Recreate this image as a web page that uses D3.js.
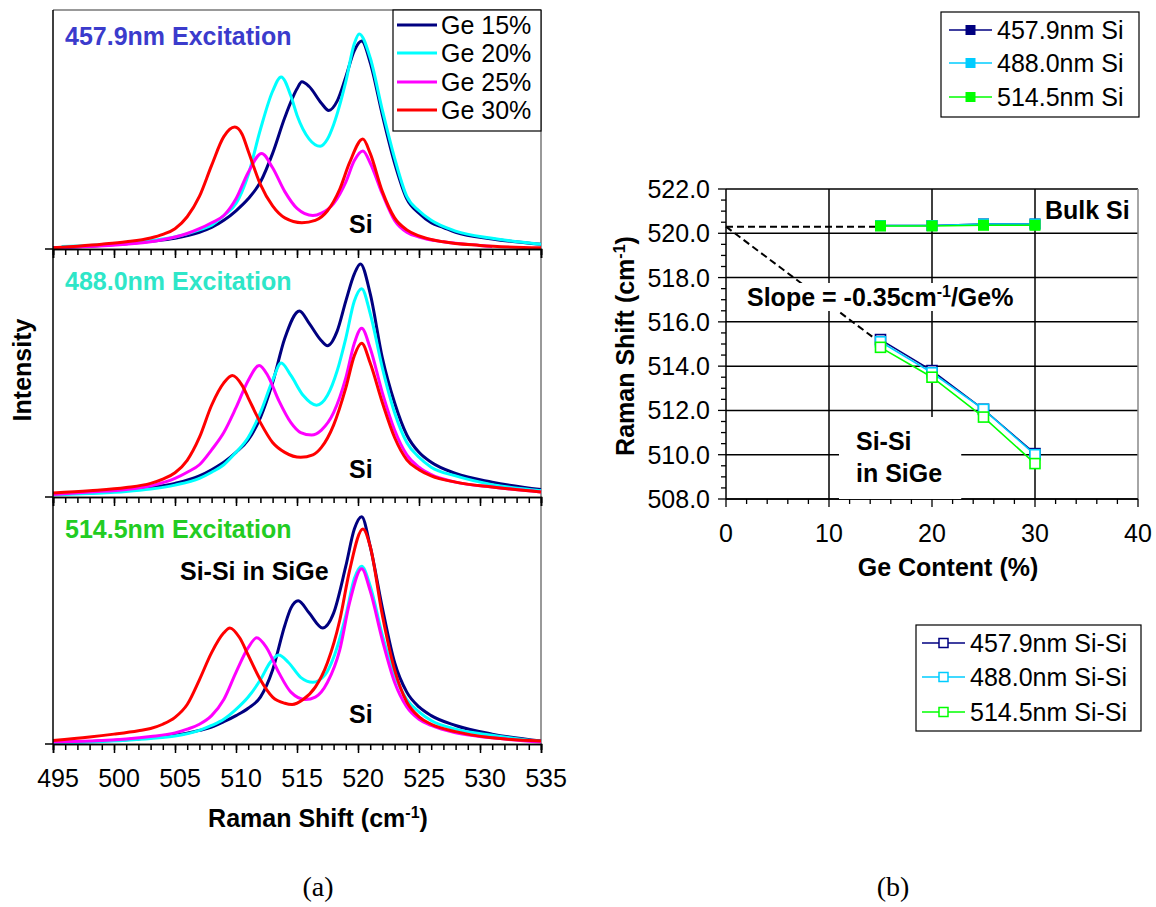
<!DOCTYPE html>
<html><head><meta charset="utf-8">
<script src="https://cdn.jsdelivr.net/npm/d3@7"></script>
<style>
body{margin:0;background:#fff;}
svg{display:block;}
text{font-family:"Liberation Sans",Arial,Helvetica,sans-serif;}
</style></head><body>
<svg id="c" width="1156" height="907"></svg>
<script>
// ---------- DATA: panel (a) Raman spectra [shift cm-1, relative intensity] ----------
const geLabels = ["Ge 15%", "Ge 20%", "Ge 25%", "Ge 30%"];
const excitations = ["457.9nm Excitation", "488.0nm Excitation", "514.5nm Excitation"];
const shiftTicks = [495, 500, 505, 510, 515, 520, 525, 530, 535];

const ex457_ge15 = [[495,0.005],[498,0.012],[501,0.022],[503,0.032],[505,0.045],[507,0.07],[508,0.09],[509,0.12],[510,0.16],[511,0.21],[512,0.28],[513,0.40],[514,0.55],[515,0.67],[515.4,0.70],[516,0.68],[517,0.61],[517.6,0.58],[518.3,0.62],[519,0.72],[519.7,0.83],[520.3,0.87],[521,0.78],[522,0.56],[523,0.36],[524,0.21],[525,0.15],[526,0.11],[527,0.09],[528,0.07],[531,0.042],[535,0.02]];
const ex457_ge20 = [[495.7,0.01],[498,0.015],[501,0.025],[503,0.035],[505,0.05],[507,0.08],[508,0.10],[509,0.14],[510,0.19],[511,0.31],[512,0.50],[513,0.66],[513.7,0.72],[514.5,0.64],[515,0.56],[516,0.46],[516.9,0.43],[517.5,0.46],[518,0.52],[519,0.70],[519.7,0.86],[520.1,0.90],[521,0.80],[522,0.58],[523,0.38],[524,0.22],[525,0.16],[526,0.12],[528,0.075],[531,0.045],[535,0.02]];
const ex457_ge25 = [[495,0.005],[498,0.01],[501,0.02],[503,0.03],[505,0.05],[506,0.065],[507,0.085],[508,0.11],[509,0.14],[510,0.21],[511,0.32],[512.1,0.40],[513,0.34],[514,0.24],[515,0.17],[516.3,0.14],[517,0.15],[518,0.19],[519,0.28],[519.7,0.37],[520.4,0.41],[521,0.36],[522,0.23],[523,0.12],[524,0.07],[525,0.05],[527,0.03],[530,0.015],[531,0.01]];
const ex457_ge30 = [[495,0.005],[497,0.012],[499,0.02],[501,0.03],[503,0.046],[504,0.061],[505,0.085],[506,0.135],[507,0.22],[508,0.35],[509,0.47],[509.9,0.51],[510.5,0.48],[511,0.41],[512,0.27],[513,0.18],[514,0.13],[515.4,0.11],[516.5,0.12],[517.5,0.16],[518.5,0.25],[519.3,0.36],[520.4,0.46],[521,0.40],[522,0.24],[523,0.13],[524,0.08],[525,0.055],[527,0.03],[530,0.015],[535,0.005]];

const ex488_ge15 = [[495,0.01],[498,0.018],[501,0.028],[503,0.038],[505,0.055],[507,0.085],[508,0.11],[509,0.14],[510,0.18],[511,0.23],[512,0.32],[513,0.46],[514,0.64],[515.2,0.75],[516,0.70],[517,0.63],[517.5,0.61],[518.3,0.67],[519,0.79],[519.7,0.90],[520.2,0.94],[521,0.82],[522,0.56],[523,0.38],[524,0.25],[525,0.18],[526,0.14],[528,0.095],[531,0.06],[535,0.03]];
const ex488_ge20 = [[495,0.008],[498,0.014],[501,0.022],[503,0.032],[505,0.048],[507,0.075],[508,0.10],[509,0.13],[510,0.18],[511,0.24],[512,0.34],[513,0.47],[513.7,0.54],[514.5,0.49],[515.5,0.41],[516.6,0.37],[517.5,0.41],[518.3,0.51],[519,0.64],[519.7,0.79],[520.3,0.84],[521,0.74],[522,0.52],[523,0.34],[524,0.22],[525,0.16],[526,0.12],[528,0.085],[531,0.05],[535,0.025]];
const ex488_ge25 = [[495,0.01],[498,0.02],[501,0.03],[503,0.045],[505,0.075],[506,0.10],[507,0.13],[508,0.19],[509,0.26],[510,0.36],[511,0.47],[511.9,0.53],[512.6,0.49],[513.5,0.39],[514.5,0.30],[515.3,0.26],[516.2,0.25],[517,0.27],[518,0.34],[519,0.48],[519.7,0.62],[520.3,0.68],[521,0.60],[522,0.42],[523,0.27],[524,0.17],[525,0.12],[526,0.09],[528,0.06],[531,0.04],[535,0.02]];
const ex488_ge30 = [[495,0.016],[498,0.025],[501,0.038],[503,0.055],[504,0.072],[505,0.098],[506,0.148],[507,0.24],[508,0.37],[509,0.46],[509.7,0.49],[510.5,0.45],[511,0.40],[512,0.30],[513,0.22],[514,0.18],[515.3,0.16],[516.3,0.17],[517,0.20],[518,0.29],[519,0.44],[519.7,0.57],[520.3,0.62],[521,0.54],[522,0.38],[523,0.24],[524,0.15],[525,0.11],[526,0.085],[528,0.06],[531,0.04],[535,0.02]];

const ex514_ge15 = [[495,0.005],[498,0.01],[501,0.017],[503,0.025],[505,0.035],[507,0.055],[508,0.068],[509,0.09],[510,0.115],[511,0.145],[512,0.19],[513,0.30],[514,0.48],[514.5,0.55],[515.1,0.58],[516,0.53],[517.1,0.47],[518,0.53],[519,0.72],[519.7,0.87],[520.3,0.92],[521,0.80],[522,0.55],[523,0.33],[524,0.21],[525,0.15],[526,0.115],[528,0.075],[531,0.04],[535,0.012]];
const ex514_ge20 = [[495,0.003],[498,0.008],[501,0.015],[503,0.022],[505,0.032],[507,0.055],[508,0.075],[509,0.10],[510,0.14],[511,0.19],[512,0.26],[512.8,0.33],[513.5,0.36],[514.3,0.33],[515.3,0.27],[516.3,0.25],[517.3,0.28],[518,0.35],[519,0.52],[519.7,0.67],[520.3,0.72],[521,0.64],[522,0.44],[523,0.28],[524,0.18],[525,0.13],[526,0.095],[528,0.06],[531,0.035],[535,0.01]];
const ex514_ge25 = [[495,0.008],[498,0.012],[501,0.02],[503,0.03],[505,0.045],[506,0.06],[507,0.08],[508,0.115],[509,0.18],[510,0.29],[511,0.39],[511.7,0.43],[512.5,0.39],[513.5,0.29],[514.5,0.21],[515.7,0.18],[516.5,0.19],[517.5,0.25],[518.5,0.38],[519.3,0.57],[520.3,0.71],[521,0.62],[522,0.42],[523,0.25],[524,0.15],[525,0.10],[526,0.075],[528,0.045],[531,0.025],[535,0.008]];
const ex514_ge30 = [[495,0.014],[498,0.028],[500,0.04],[502,0.054],[503,0.063],[504,0.08],[505,0.108],[506,0.16],[507,0.26],[508,0.37],[509,0.45],[509.5,0.47],[510.3,0.43],[511,0.36],[512,0.26],[513,0.19],[514,0.165],[514.6,0.16],[515.5,0.18],[516.5,0.23],[517.5,0.33],[518.5,0.50],[519.3,0.70],[520.4,0.87],[521,0.80],[522,0.52],[523,0.30],[524,0.17],[525,0.11],[526,0.08],[528,0.05],[531,0.025],[535,0.012]];

// ---------- DATA: panel (b) peak positions ----------
const geContent = [15, 20, 25, 30];
const si457 = [520.35, 520.35, 520.42, 520.42];
const si488 = [520.35, 520.35, 520.42, 520.42];
const si514 = [520.33, 520.33, 520.36, 520.36];
const sisi457 = [515.2, 513.8, 512.05, 510.05];
const sisi488 = [515.1, 513.7, 512.05, 510.0];
const sisi514 = [514.85, 513.5, 511.7, 509.6];
const siLegend = ["457.9nm Si", "488.0nm Si", "514.5nm Si"];
const sisiLegend = ["457.9nm Si-Si", "488.0nm Si-Si", "514.5nm Si-Si"];
const geTicks = [0, 10, 20, 30, 40];
const shiftTicksB = [508, 510, 512, 514, 516, 518, 520, 522];
const bulkSi = 520.3, slope = -0.35;

// ---------- STYLE ----------
const curveColors = ["#000080", "#00ffff", "#ff00ff", "#ff0000"];
const titleColors = ["#3b3bcc", "#2ee6c8", "#22cc22"];
const laserColors = ["#000080", "#00ccff", "#00ff00"];
const svg = d3.select("#c");
const F = 25;

// ================= PANEL (a) =================
const xL = d3.scaleLinear().domain([495, 535]).range([53, 541]);
const geom = [{top: 10, bottom: 249}, {top: 249, bottom: 497}, {top: 497, bottom: 744}];
const spectra = [
  [ex457_ge15, ex457_ge20, ex457_ge25, ex457_ge30],
  [ex488_ge15, ex488_ge20, ex488_ge25, ex488_ge30],
  [ex514_ge15, ex514_ge20, ex514_ge25, ex514_ge30]
];
const titleBase = [45, 290, 538];
const siBase = [233, 478, 723];

svg.append("line").attr("x1", 53).attr("x2", 541).attr("y1", 10).attr("y2", 10).attr("stroke", "#777").attr("stroke-width", 1.5);
svg.append("line").attr("x1", 541).attr("x2", 541).attr("y1", 10).attr("y2", 744).attr("stroke", "#777").attr("stroke-width", 1.5);

geom.forEach((g, pi) => {
  const y = d3.scaleLinear().domain([0, 1]).range([g.bottom, g.top]);
  const line = d3.line().x(d => xL(d[0])).y(d => y(d[1])).curve(d3.curveMonotoneX);
  const gp = svg.append("g");
  spectra[pi].forEach((s, ci) => {
    gp.append("path").datum(s).attr("d", line).attr("fill", "none")
      .attr("stroke", curveColors[ci]).attr("stroke-width", 3).attr("stroke-linejoin", "round");
  });
  const minor = svg.append("g").attr("transform", `translate(0,${g.bottom})`)
    .call(d3.axisBottom(xL).tickValues(d3.range(495, 536, 1)).tickSize(6).tickFormat(""));
  const major = svg.append("g").attr("transform", `translate(0,${g.bottom})`)
    .call(d3.axisBottom(xL).tickValues(shiftTicks).tickSize(9).tickFormat(""));
  [minor, major].forEach(a => { a.select(".domain").attr("stroke", "#000").attr("stroke-width", 1.5); a.selectAll(".tick line").attr("stroke", "#000").attr("stroke-width", 1.5); });
  svg.append("line").attr("x1", 45).attr("x2", 53).attr("y1", g.bottom).attr("y2", g.bottom).attr("stroke", "#000").attr("stroke-width", 1.5);
  svg.append("text").attr("x", 65).attr("y", titleBase[pi]).attr("font-size", F).attr("font-weight", "bold")
    .attr("fill", titleColors[pi]).text(excitations[pi]);
  svg.append("text").attr("x", 349).attr("y", siBase[pi]).attr("font-size", F).attr("font-weight", "bold").text("Si");
});
svg.append("line").attr("x1", 53).attr("x2", 53).attr("y1", 10).attr("y2", 744).attr("stroke", "#000").attr("stroke-width", 1.5);

svg.append("text").attr("x", 180).attr("y", 580).attr("font-size", F).attr("font-weight", "bold").text("Si-Si in SiGe");

svg.append("g").selectAll("text").data(shiftTicks).join("text")
  .attr("x", d => xL(d) + 5).attr("y", 787).attr("text-anchor", "middle").attr("font-size", F).text(d => d);

const xt = svg.append("text").attr("x", 318).attr("y", 827).attr("text-anchor", "middle").attr("font-size", F).attr("font-weight", "bold");
xt.append("tspan").text("Raman Shift (cm");
xt.append("tspan").attr("dy", -9).attr("font-size", 16).text("-1");
xt.append("tspan").attr("dy", 9).text(")");
svg.append("text").attr("transform", "translate(31,370) rotate(-90)").attr("text-anchor", "middle")
  .attr("font-size", F).attr("font-weight", "bold").text("Intensity");

const lg = svg.append("g");
lg.append("rect").attr("x", 393).attr("y", 10).attr("width", 148).attr("height", 121).attr("fill", "#fff").attr("stroke", "#000").attr("stroke-width", 1.2);
const rowsA = [25, 53, 82, 110];
geLabels.forEach((t, i) => {
  lg.append("line").attr("x1", 397).attr("x2", 437).attr("y1", rowsA[i]).attr("y2", rowsA[i]).attr("stroke", curveColors[i]).attr("stroke-width", 3);
  lg.append("text").attr("x", 441).attr("y", rowsA[i] + 9).attr("font-size", F).text(t);
});

// ================= PANEL (b) =================
const xR = d3.scaleLinear().domain([0, 40]).range([726, 1138]);
const yR = d3.scaleLinear().domain([508, 522]).range([499, 189]);
const gb = svg.append("g");
gb.selectAll(".hg").data(shiftTicksB).join("line").attr("class", "hg")
  .attr("x1", xR(0)).attr("x2", xR(40)).attr("y1", d => yR(d)).attr("y2", d => yR(d))
  .attr("stroke", "#000").attr("stroke-width", 1.5);
gb.selectAll(".vg").data([10, 20, 30]).join("line").attr("class", "vg")
  .attr("x1", d => xR(d)).attr("x2", d => xR(d)).attr("y1", yR(522)).attr("y2", yR(508))
  .attr("stroke", "#000").attr("stroke-width", 1.5);
gb.append("line").attr("x1", xR(40)).attr("x2", xR(40)).attr("y1", yR(522)).attr("y2", yR(508)).attr("stroke", "#888").attr("stroke-width", 1.5);
const yMinor = d3.range(508, 522.01, 0.5);
gb.selectAll(".ym").data(yMinor).join("line").attr("class", "ym")
  .attr("x1", d => (d % 2 === 0 ? xR(0) - 8 : xR(0) - 5)).attr("x2", xR(0)).attr("y1", d => yR(d)).attr("y2", d => yR(d))
  .attr("stroke", "#000").attr("stroke-width", 1.3);
const xMinor = d3.range(0, 40.01, 2);
gb.selectAll(".xm").data(xMinor).join("line").attr("class", "xm")
  .attr("x1", d => xR(d)).attr("x2", d => xR(d)).attr("y1", yR(508)).attr("y2", d => yR(508) + (d % 10 === 0 ? 8 : 5))
  .attr("stroke", "#000").attr("stroke-width", 1.3);
gb.append("line").attr("x1", xR(0)).attr("x2", xR(0)).attr("y1", yR(522)).attr("y2", yR(508)).attr("stroke", "#000").attr("stroke-width", 1.5);
gb.append("line").attr("x1", xR(0)).attr("x2", xR(40)).attr("y1", yR(508)).attr("y2", yR(508)).attr("stroke", "#000").attr("stroke-width", 1.5);

gb.append("line").attr("x1", xR(0)).attr("x2", xR(15)).attr("y1", yR(bulkSi)).attr("y2", yR(bulkSi))
  .attr("stroke", "#000").attr("stroke-width", 2).attr("stroke-dasharray", "7,4");
gb.append("line").attr("x1", xR(0)).attr("x2", xR(15)).attr("y1", yR(bulkSi)).attr("y2", yR(bulkSi + slope * 15))
  .attr("stroke", "#000").attr("stroke-width", 2).attr("stroke-dasharray", "7,4");

function boxedText(x, y, build, pad) {
  const g = gb.append("g");
  const r = g.append("rect").attr("fill", "#fff");
  const t = g.append("text").attr("x", x).attr("y", y).attr("font-size", F).attr("font-weight", "bold");
  build(t);
  const b = t.node().getBBox();
  r.attr("x", b.x - pad[0]).attr("y", b.y - pad[1]).attr("width", b.width + pad[0] + pad[2]).attr("height", b.height + pad[1] + pad[3]);
  return g;
}
boxedText(747, 306, t => {
  t.append("tspan").text("Slope = -0.35cm");
  t.append("tspan").attr("dy", -9).attr("font-size", 16).text("-1");
  t.append("tspan").attr("dy", 9).text("/Ge%");
}, [6, 0, 6, 0]);
boxedText(856, 450, t => {
  t.append("tspan").attr("x", 856).text("Si-Si");
  t.append("tspan").attr("x", 856).attr("dy", 32).text("in SiGe");
}, [17, 10, 19, 12]);
gb.append("text").attr("x", 1045).attr("y", 219).attr("font-size", F).attr("font-weight", "bold").text("Bulk Si");

const lineB = d3.line().x(d => xR(d[0])).y(d => yR(d[1]));
const siSeries = [si457, si488, si514];
const sisiSeries = [sisi457, sisi488, sisi514];
sisiSeries.forEach((s, i) => {
  const pts = geContent.map((g, j) => [g, s[j]]);
  gb.append("path").datum(pts).attr("d", lineB).attr("fill", "none").attr("stroke", laserColors[i]).attr("stroke-width", 1.6);
  gb.selectAll(null).data(pts).join("rect").attr("x", d => xR(d[0]) - 5).attr("y", d => yR(d[1]) - 5)
    .attr("width", 10).attr("height", 10).attr("fill", "#fff").attr("stroke", laserColors[i]).attr("stroke-width", 1.6);
});
siSeries.forEach((s, i) => {
  const pts = geContent.map((g, j) => [g, s[j]]);
  gb.append("path").datum(pts).attr("d", lineB).attr("fill", "none").attr("stroke", laserColors[i]).attr("stroke-width", 1.6);
  gb.selectAll(null).data(pts).join("rect").attr("x", d => xR(d[0]) - 5.5).attr("y", d => yR(d[1]) - 5.5)
    .attr("width", 11).attr("height", 11).attr("fill", laserColors[i]);
});

gb.selectAll(".yl").data(shiftTicksB).join("text").attr("class", "yl")
  .attr("x", 710).attr("y", d => yR(d) + 9).attr("text-anchor", "end").attr("font-size", F).text(d => d.toFixed(1));
gb.selectAll(".xl").data(geTicks).join("text").attr("class", "xl")
  .attr("x", d => xR(d)).attr("y", 542).attr("text-anchor", "middle").attr("font-size", F).text(d => d);
gb.append("text").attr("x", 948).attr("y", 576).attr("text-anchor", "middle").attr("font-size", F).attr("font-weight", "bold").text("Ge Content (%)");
const yt = gb.append("text").attr("transform", "translate(634,346) rotate(-90)").attr("text-anchor", "middle").attr("font-size", F).attr("font-weight", "bold");
yt.append("tspan").text("Raman Shift (cm");
yt.append("tspan").attr("dy", -9).attr("font-size", 16).text("-1");
yt.append("tspan").attr("dy", 9).text(")");

function legendB(x0, y0, w, h, rows, lx1, lx2, tx, labels, filled) {
  const g = svg.append("g");
  g.append("rect").attr("x", x0).attr("y", y0).attr("width", w).attr("height", h).attr("fill", "#fff").attr("stroke", "#000").attr("stroke-width", 1.2);
  labels.forEach((t, i) => {
    g.append("line").attr("x1", lx1).attr("x2", lx2).attr("y1", rows[i]).attr("y2", rows[i]).attr("stroke", laserColors[i]).attr("stroke-width", 1.6);
    const mx = (lx1 + lx2) / 2;
    if (filled) g.append("rect").attr("x", mx - 5).attr("y", rows[i] - 5).attr("width", 10).attr("height", 10).attr("fill", laserColors[i]);
    else g.append("rect").attr("x", mx - 4.5).attr("y", rows[i] - 4.5).attr("width", 9).attr("height", 9).attr("fill", "#fff").attr("stroke", laserColors[i]).attr("stroke-width", 1.5);
    g.append("text").attr("x", tx).attr("y", rows[i] + 9).attr("font-size", F).text(t);
  });
}
legendB(941, 12, 198, 105, [30, 63, 97], 949, 992, 997, siLegend, true);
legendB(916, 625, 225, 106, [643, 677, 712], 922, 965, 970, sisiLegend, false);

svg.append("text").attr("x", 318).attr("y", 896).attr("text-anchor", "middle").attr("font-size", 28)
  .style("font-family", '"Liberation Serif","Times New Roman",serif').text("(a)");
svg.append("text").attr("x", 893).attr("y", 896).attr("text-anchor", "middle").attr("font-size", 28)
  .style("font-family", '"Liberation Serif","Times New Roman",serif').text("(b)");
</script>
</body></html>
